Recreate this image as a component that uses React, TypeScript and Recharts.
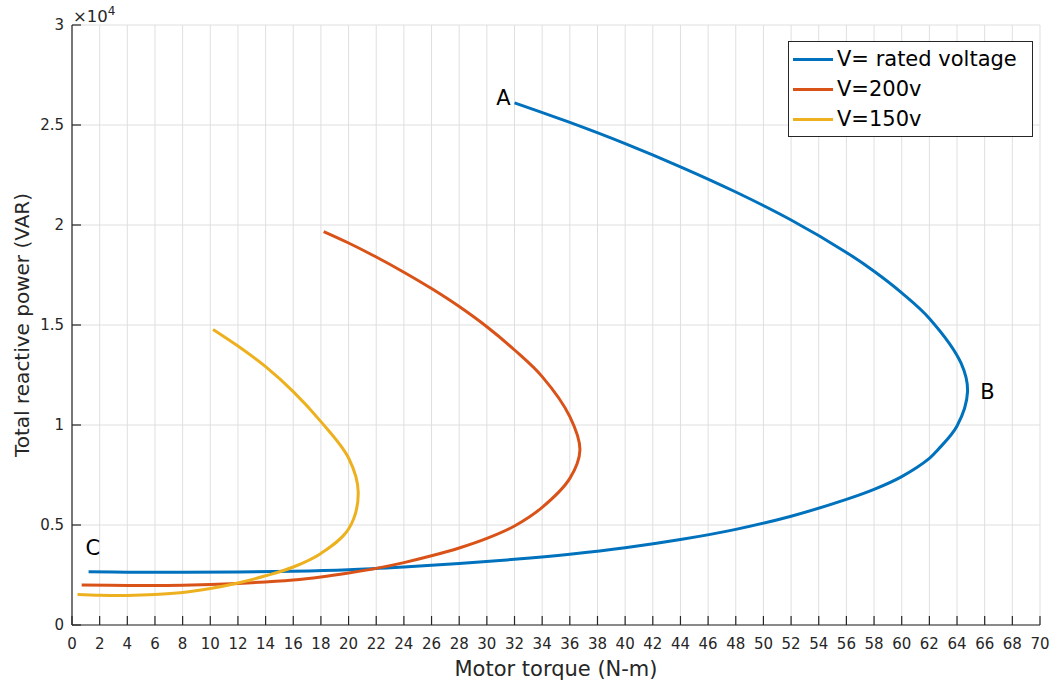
import {
    CartesianGrid,
    Label,
    Legend,
    Line,
    LineChart,
    ReferenceDot,
    XAxis,
    YAxis,
} from "recharts";

const FONT = "'DejaVu Sans', sans-serif";
const AXIS = "#262626";

const seriesNames = ["V= rated voltage", "V=200v", "V=150v"];
const seriesColors = ["#0072BD", "#D95319", "#EDB120"];

// torque (N-m) vs total reactive power (VAR), traced from the top end, round the nose, to the left end
const ratedVoltage = [
    { x: 32.0, y: 26110 }, { x: 36, y: 25130 }, { x: 40, y: 24070 },
    { x: 44, y: 22910 }, { x: 48, y: 21650 }, { x: 52, y: 20250 },
    { x: 56, y: 18630 }, { x: 58, y: 17690 }, { x: 60, y: 16610 },
    { x: 62, y: 15330 }, { x: 64.3, y: 13080 }, { x: 64.76, y: 11670 },
    { x: 64.0, y: 9950 }, { x: 62.6, y: 8750 }, { x: 62, y: 8330 },
    { x: 60, y: 7420 }, { x: 58, y: 6780 }, { x: 56, y: 6280 },
    { x: 52, y: 5440 }, { x: 48, y: 4780 }, { x: 44, y: 4270 },
    { x: 40, y: 3860 }, { x: 36, y: 3540 }, { x: 32, y: 3285 },
    { x: 28, y: 3075 }, { x: 24, y: 2905 }, { x: 20, y: 2765 },
    { x: 16, y: 2685 }, { x: 12, y: 2645 }, { x: 8, y: 2635 },
    { x: 4, y: 2640 }, { x: 1.2, y: 2660 },
];

const volt200 = [
    { x: 18.2, y: 19670 }, { x: 20, y: 19100 }, { x: 22, y: 18400 },
    { x: 24, y: 17640 }, { x: 26, y: 16820 }, { x: 28, y: 15920 },
    { x: 30, y: 14910 }, { x: 32, y: 13750 }, { x: 34, y: 12420 },
    { x: 36, y: 10420 }, { x: 36.73, y: 8750 }, { x: 36, y: 7330 },
    { x: 34, y: 5880 }, { x: 32, y: 4950 }, { x: 30, y: 4330 },
    { x: 28, y: 3850 }, { x: 26, y: 3460 }, { x: 24, y: 3120 },
    { x: 22, y: 2830 }, { x: 20, y: 2600 }, { x: 18, y: 2400 },
    { x: 16, y: 2250 }, { x: 12, y: 2080 }, { x: 8, y: 1990 },
    { x: 4, y: 1980 }, { x: 0.7, y: 2000 },
];

const volt150 = [
    { x: 10.2, y: 14780 }, { x: 12, y: 13950 }, { x: 14, y: 12920 },
    { x: 16, y: 11670 }, { x: 18, y: 10170 }, { x: 20, y: 8350 },
    { x: 20.7, y: 6620 }, { x: 20, y: 4800 }, { x: 18, y: 3580 },
    { x: 16, y: 2900 }, { x: 14, y: 2460 }, { x: 12, y: 2100 },
    { x: 10, y: 1820 }, { x: 8, y: 1620 }, { x: 6, y: 1520 },
    { x: 4, y: 1480 }, { x: 2, y: 1490 }, { x: 0.4, y: 1530 },
];

const seriesData = [ratedVoltage, volt200, volt150];

const xTicks = [
    0, 2, 4, 6, 8, 10, 12, 14, 16, 18, 20, 22, 24, 26, 28, 30, 32, 34, 36,
    38, 40, 42, 44, 46, 48, 50, 52, 54, 56, 58, 60, 62, 64, 66, 68, 70,
];
const yTicks = [0, 5000, 10000, 15000, 20000, 25000, 30000];

const pointLabels = ["A", "B", "C"];
const pointLabelX = [31.2, 66.2, 1.5];
const pointLabelY = [26350, 11650, 3850];

const tickStyle = { fill: AXIS, fontSize: 15, fontFamily: FONT };

// centripetal Catmull-Rom, so the curves can turn back on themselves smoothly
class CatmullRomCurve {
    ctx: any;
    pts: [number, number][] = [];
    constructor(ctx: any) {
        this.ctx = ctx;
    }
    areaStart() {}
    areaEnd() {}
    lineStart() {
        this.pts = [];
    }
    point(x: number, y: number) {
        this.pts.push([+x, +y]);
    }
    lineEnd() {
        const p = this.pts;
        const n = p.length;
        if (!n) return;
        const ctx = this.ctx;
        ctx.moveTo(p[0][0], p[0][1]);
        const dist = (a: number[], b: number[]) =>
            Math.hypot(a[0] - b[0], a[1] - b[1]);
        for (let i = 0; i < n - 1; i++) {
            const p0 = i > 0 ? p[i - 1] : null;
            const p1 = p[i];
            const p2 = p[i + 1];
            const p3 = i + 2 < n ? p[i + 2] : null;
            const l12_2a = dist(p1, p2);
            const l12a = Math.sqrt(l12_2a);
            let c1 = [p1[0], p1[1]];
            let c2 = [p2[0], p2[1]];
            if (p0) {
                const l01_2a = dist(p0, p1);
                const l01a = Math.sqrt(l01_2a);
                if (l01a > 1e-9) {
                    const a = 2 * l01_2a + 3 * l01a * l12a + l12_2a;
                    const k = 3 * l01a * (l01a + l12a);
                    c1 = [0, 1].map(
                        (j) => (p1[j] * a - p0[j] * l12_2a + p2[j] * l01_2a) / k,
                    );
                }
            }
            if (p3) {
                const l23_2a = dist(p2, p3);
                const l23a = Math.sqrt(l23_2a);
                if (l23a > 1e-9) {
                    const b = 2 * l23_2a + 3 * l23a * l12a + l12_2a;
                    const m = 3 * l23a * (l23a + l12a);
                    c2 = [0, 1].map(
                        (j) => (p2[j] * b + p1[j] * l23_2a - p3[j] * l12_2a) / m,
                    );
                }
            }
            ctx.bezierCurveTo(c1[0], c1[1], c2[0], c2[1], p2[0], p2[1]);
        }
    }
}

const catmullRom = (ctx: any) => new CatmullRomCurve(ctx);

function LegendBox() {
    return (
        <div
            style={{
                width: 245,
                height: 96,
                boxSizing: "border-box",
                border: `1px solid ${AXIS}`,
                background: "#fff",
                paddingTop: 2,
                fontFamily: FONT,
            }}
        >
            {seriesNames.map((name, i) => (
                <div
                    key={name}
                    style={{ display: "flex", alignItems: "center", height: 30 }}
                >
                    <span
                        style={{
                            display: "inline-block",
                            marginLeft: 4,
                            width: 40,
                            height: 3,
                            background: seriesColors[i],
                        }}
                    />
                    <span
                        style={{
                            marginLeft: 4,
                            fontSize: 21,
                            lineHeight: "30px",
                            color: "#000",
                            whiteSpace: "nowrap",
                        }}
                    >
                        {name}
                    </span>
                </div>
            ))}
        </div>
    );
}

export default function App() {
    return (
        <div style={{ width: 1054, height: 687, background: "#fff" }}>
            <style>{"body{margin:0}"}</style>
            <LineChart
                width={1054}
                height={687}
                margin={{ top: 25, right: 14, bottom: 0, left: 0 }}
            >
                <CartesianGrid stroke="#dfdfdf" strokeWidth={1} />
                <XAxis
                    type="number"
                    dataKey="x"
                    domain={[0, 70]}
                    ticks={xTicks}
                    interval={0}
                    allowDataOverflow
                    height={62}
                    stroke={AXIS}
                    strokeWidth={1.2}
                    tickSize={-9}
                    tickMargin={22}
                    tick={tickStyle}
                >
                    <Label
                        value="Motor torque (N-m)"
                        position="insideBottom"
                        offset={11}
                        fill={AXIS}
                        fontSize={21}
                        fontFamily={FONT}
                    />
                </XAxis>
                <XAxis
                    xAxisId="top"
                    orientation="top"
                    type="number"
                    domain={[0, 70]}
                    ticks={xTicks}
                    interval={0}
                    height={0}
                    stroke={AXIS}
                    strokeWidth={1.2}
                    tickSize={-9}
                    tickFormatter={() => ""}
                />
                <YAxis
                    type="number"
                    domain={[0, 30000]}
                    ticks={yTicks}
                    interval={0}
                    allowDataOverflow
                    width={72}
                    stroke={AXIS}
                    strokeWidth={1.2}
                    tickSize={-9}
                    tickMargin={17}
                    tick={tickStyle}
                    tickFormatter={(v: number) => String(v / 10000)}
                >
                    <Label
                        content={({ viewBox }: any) => (
                            <text
                                x={22}
                                y={viewBox.y + viewBox.height / 2}
                                transform={`rotate(-90 22 ${viewBox.y + viewBox.height / 2})`}
                                textAnchor="middle"
                                dy="0.36em"
                                fill={AXIS}
                                fontSize={20}
                                fontFamily={FONT}
                            >
                                Total reactive power (VAR)
                            </text>
                        )}
                    />
                    <Label
                        content={({ viewBox }: any) => (
                            <text
                                x={viewBox.x + viewBox.width + 1}
                                y={viewBox.y - 3.5}
                                fill={AXIS}
                                fontSize={16.5}
                                fontFamily={FONT}
                            >
                                ×10
                                <tspan fontSize={12} dy={-7}>
                                    4
                                </tspan>
                            </text>
                        )}
                    />
                </YAxis>
                <YAxis
                    yAxisId="right"
                    orientation="right"
                    type="number"
                    domain={[0, 30000]}
                    ticks={yTicks}
                    interval={0}
                    width={0}
                    stroke={AXIS}
                    strokeWidth={1.2}
                    tickSize={-9}
                    tickFormatter={() => ""}
                />
                <Legend
                    layout="vertical"
                    align="center"
                    verticalAlign="middle"
                    wrapperStyle={{ left: 788, top: 41, width: 245, height: 96 }}
                    content={() => <LegendBox />}
                />
                {seriesData.map((d, i) => (
                    <Line
                        key={seriesNames[i]}
                        name={seriesNames[i]}
                        data={d}
                        dataKey="y"
                        type={catmullRom as any}
                        stroke={seriesColors[i]}
                        strokeWidth={3}
                        dot={false}
                        activeDot={false}
                        isAnimationActive={false}
                    />
                ))}
                {pointLabels.map((t, i) => (
                    <ReferenceDot
                        key={t}
                        x={pointLabelX[i]}
                        y={pointLabelY[i]}
                        r={0}
                        stroke="none"
                        fill="none"
                        label={{
                            value: t,
                            position: "center",
                            fill: "#000",
                            fontSize: 21,
                            fontFamily: FONT,
                        }}
                    />
                ))}
            </LineChart>
        </div>
    );
}
